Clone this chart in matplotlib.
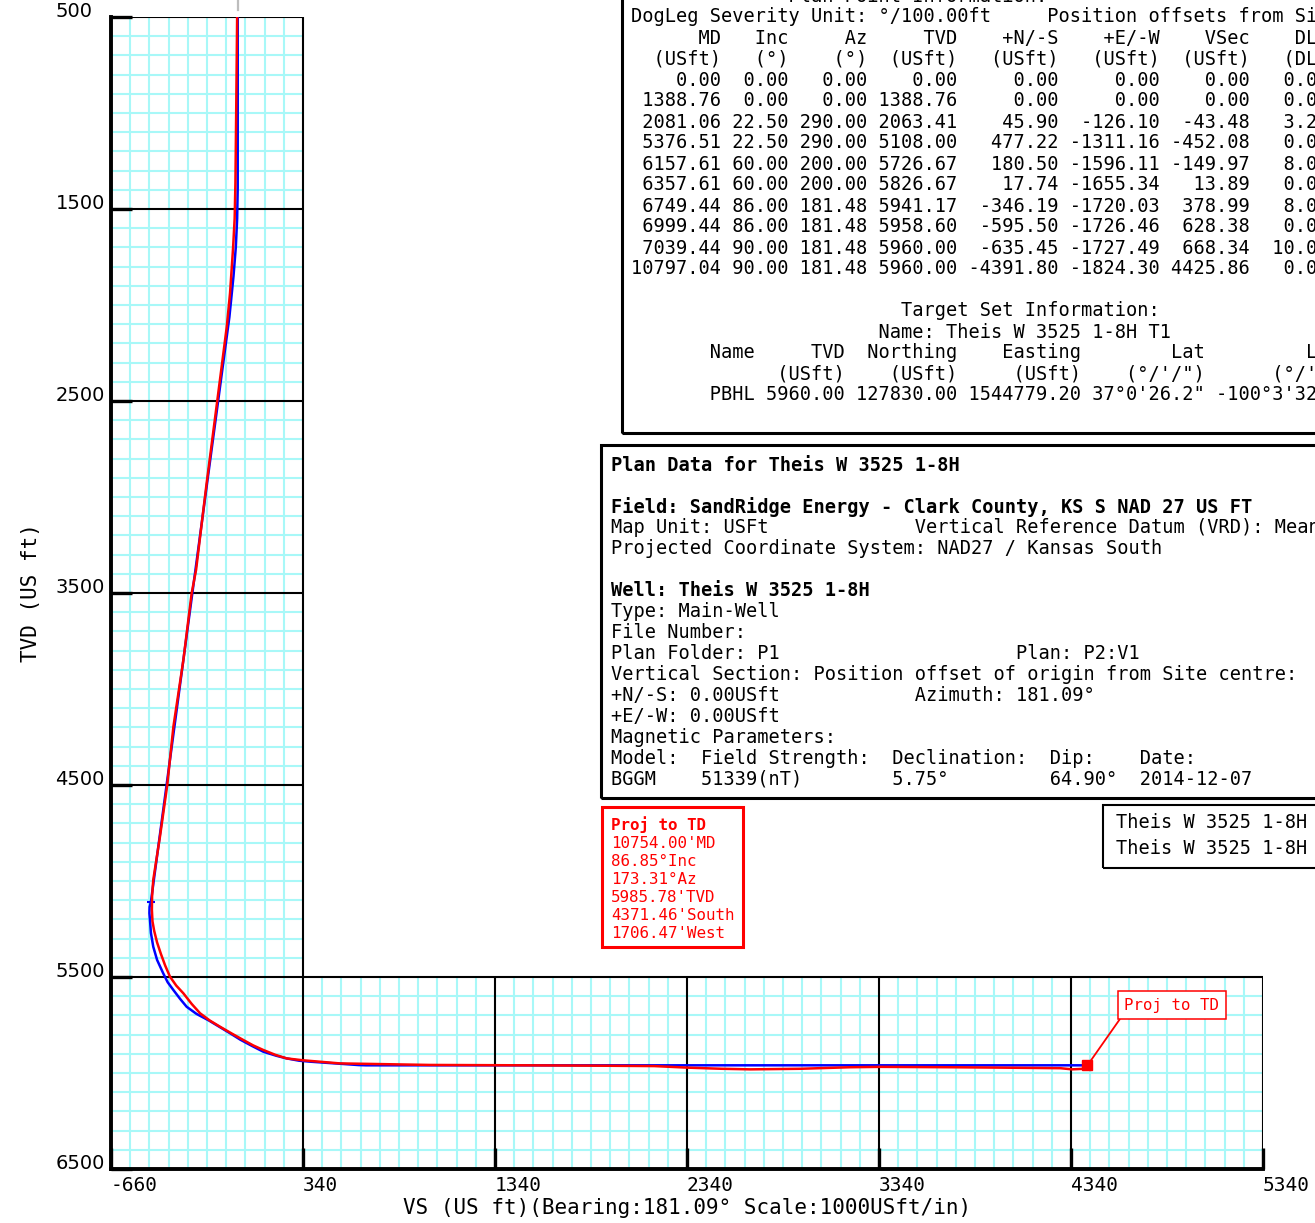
import numpy as np
import matplotlib
matplotlib.use("Agg")
import matplotlib.pyplot as plt
from matplotlib.patches import Rectangle

# ------------------------------------------------------------------ data
x_ticks = [-660, 340, 1340, 2340, 3340, 4340, 5340]
y_ticks = [500, 1500, 2500, 3500, 4500, 5500, 6500]

plan_vs = [0, 0, -3, -10, -22, -34, -43.48, -452.08, -459, -460, -457, -452, -440,
           -420, -388, -365, -335, -300, -266, -215, -149.97, -40, 13.89, 80, 133,
           200, 255, 320, 378.99, 530, 628.38, 668.34, 4425.86]
plan_tvd = [500, 1388.76, 1550, 1700, 1850, 1970, 2063.41, 5108.00, 5135, 5167, 5203,
            5271, 5342, 5411, 5481, 5527, 5568, 5614, 5655, 5692, 5726.67, 5793,
            5826.67, 5862, 5889, 5910, 5924, 5936, 5941.17, 5951.7, 5958.60, 5960.00,
            5960.00]

# actual survey (red)
act_vs = [-3, -8, -12, -16, -24, -40, -57, -106, -162, -217, -240, -283, -335, -367,
          -405, -440, -446, -447, -444, -435, -420, -400, -378, -353, -320, -283, -240,
          -196, -145, -92, -30, 29, 80, 133, 195, 255, 342, 532, 1000, 1500, 1890, 2170,
          2340, 2520, 2670, 2930, 3190, 3345, 3710, 3970, 4285, 4345, 4410]
act_tvd = [500, 1000, 1365, 1550, 1700, 1938, 2113, 2495, 2929, 3380, 3502, 3849, 4196,
           4500, 4769, 4995, 5080, 5150, 5210, 5260, 5320, 5380, 5440, 5498, 5545, 5585,
           5640, 5689, 5727, 5759, 5795, 5828, 5856, 5880, 5905, 5924, 5934, 5950, 5958,
           5960, 5962, 5964, 5972, 5978, 5981, 5978, 5970, 5968, 5970, 5972, 5975, 5981,
           5978]

td_vs, td_tvd = 4425.86, 5960.0

# plan point table
md = [0.00, 1388.76, 2081.06, 5376.51, 6157.61, 6357.61, 6749.44, 6999.44, 7039.44, 10797.04]
inc = [0.00, 0.00, 22.50, 22.50, 60.00, 60.00, 86.00, 86.00, 90.00, 90.00]
az = [0.00, 0.00, 290.00, 290.00, 200.00, 200.00, 181.48, 181.48, 181.48, 181.48]
tvd = [0.00, 1388.76, 2063.41, 5108.00, 5726.67, 5826.67, 5941.17, 5958.60, 5960.00, 5960.00]
ns = [0.00, 0.00, 45.90, 477.22, 180.50, 17.74, -346.19, -595.50, -635.45, -4391.80]
ew = [0.00, 0.00, -126.10, -1311.16, -1596.11, -1655.34, -1720.03, -1726.46, -1727.49, -1824.30]
vsec = [0.00, 0.00, -43.48, -452.08, -149.97, 13.89, 378.99, 628.38, 668.34, 4425.86]
dleg = [0.00, 0.00, 3.25, 0.00, 8.00, 0.00, 8.00, 0.00, 10.00, 0.00]

proj_lines = ["Proj to TD", "10754.00'MD", "86.85°Inc", "173.31°Az",
              "5985.78'TVD", "4371.46'South", "1706.47'West"]
legend_lines = ["Theis W 3525 1-8H", "Theis W 3525 1-8H"]

# ------------------------------------------------------------------ figure
W, H = 1315, 1223
fig = plt.figure(figsize=(W / 100, H / 100), dpi=100)
MONO = "DejaVu Sans Mono"

def fx(x):
    return x / W

def fy(y):
    return 1 - y / H

def ftext(x, y, s, **kw):
    kw.setdefault("family", MONO)
    kw.setdefault("va", "center")
    kw.setdefault("ha", "left")
    fig.text(fx(x), fy(y), s, **kw)

def fbox(x0, y0, x1, y1, color="black", lw=2.2):
    fig.add_artist(Rectangle((fx(x0), fy(y1)), (x1 - x0) / W, (y1 - y0) / H,
                             transform=fig.transFigure, fill=False, ec=color,
                             lw=lw, clip_on=False))

ax = fig.add_axes([fx(111), fy(1169), 1152 / W, 1152 / H])
ax.set_facecolor("none")
ax.set_xlim(-660, 5340)
ax.set_ylim(6500, 500)
for s in ["top", "right"]:
    ax.spines[s].set_visible(False)
for s in ["left", "bottom"]:
    ax.spines[s].set_linewidth(2.8)
    ax.spines[s].set_zorder(5)

cyan = "#a8f8f8"
step = 100
# grid in narrow upper part and wide lower part
gx_up = [v for v in np.arange(x_ticks[0] + step, x_ticks[1], step)]
ax.vlines(gx_up, y_ticks[0], y_ticks[-1], colors=cyan, lw=1.5, zorder=1)
gx_low = [v for v in np.arange(x_ticks[1] + step, x_ticks[-1], step) if v not in x_ticks]
ax.vlines(gx_low, y_ticks[-2], y_ticks[-1], colors=cyan, lw=1.5, zorder=1)
gy_up = [v for v in np.arange(y_ticks[0] + step, y_ticks[-2], step) if v not in y_ticks]
ax.hlines(gy_up, x_ticks[0], x_ticks[1], colors=cyan, lw=1.5, zorder=1)
gy_low = [v for v in np.arange(y_ticks[-2] + step, y_ticks[-1], step)]
ax.hlines(gy_low, x_ticks[0], x_ticks[-1], colors=cyan, lw=1.5, zorder=1)

# black frame lines
ax.hlines(y_ticks[:-2], x_ticks[0], x_ticks[1], colors="black", lw=1.5, zorder=2)
ax.hlines(y_ticks[-2], x_ticks[0], x_ticks[-1], colors="black", lw=1.5, zorder=2)
ax.vlines(x_ticks[1], y_ticks[0], y_ticks[-1], colors="black", lw=1.5, zorder=2)
ax.vlines(x_ticks[2:], y_ticks[-2], y_ticks[-1], colors="black", lw=1.5, zorder=2)

# grey stub above the top
ax.plot([0, 0], [411, 463], color="#bdbdbd", lw=1.6, clip_on=False)

# curves
ax.plot(plan_vs, plan_tvd, color="#0000ff", lw=1.8, zorder=3, solid_capstyle="butt")
ax.plot([plan_vs[7]], [plan_tvd[7]], marker="_", color="#0000ff", ms=6, mew=1.5, zorder=3)
ax.plot(act_vs, act_tvd, color="#ff0000", lw=1.8, zorder=4)
ax.plot([td_vs], [td_tvd], marker="s", color="#ff0000", ms=7.5, zorder=6, clip_on=False)

ax.annotate("Proj to TD", xy=(td_vs, td_tvd), xytext=(4866, 5646),
            textcoords="data", ha="center", va="center", color="#ff0000",
            family=MONO, fontsize=11.3,
            bbox=dict(boxstyle="square,pad=0.4", fc="white", ec="#ff0000", lw=1.1),
            arrowprops=dict(arrowstyle="-", color="#ff0000", lw=1.3,
                            relpos=(0, 0), shrinkA=0, shrinkB=0), zorder=7)

# ticks
ax.set_xticks(x_ticks)
ax.set_xticklabels([str(v) for v in x_ticks], family=MONO, fontsize=14)
for lbl in ax.get_xticklabels():
    lbl.set_ha("left")
ax.set_yticks(y_ticks)
ax.set_yticklabels([str(v) for v in y_ticks], family="DejaVu Sans", fontsize=14)
for lbl in ax.get_yticklabels():
    lbl.set_ha("left")
    lbl.set_va("baseline")
ax.tick_params(axis="x", direction="in", length=15, width=2.4, pad=5, top=False)
ax.tick_params(axis="y", direction="in", length=15, width=2.4, pad=40, right=False)

ax.set_xlabel("VS (US ft)(Bearing:181.09° Scale:1000USft/in)", family=MONO,
              fontsize=15, labelpad=2)
ax.set_ylabel("TVD (US ft)", family=MONO, fontsize=15)
ax.yaxis.set_label_coords(-0.061, 0.5)

# ------------------------------------------------------------------ text boxes
FS = 13.4
# plan point table
fbox(622, -20, 1340, 433)
lines = []
lines.append(" " * 14 + "Plan Point Information:")
lines.append("DogLeg Severity Unit: °/100.00ft     Position offsets from Site centre")
lines.append("      MD   Inc     Az     TVD    +N/-S    +E/-W    VSec    DLeg   TFace")
lines.append("  (USft)   (°)    (°)  (USft)   (USft)   (USft)  (USft)   (DLSU)")
for r in range(len(md)):
    lines.append(f"{md[r]:8.2f}{inc[r]:6.2f}{az[r]:7.2f}{tvd[r]:8.2f}{ns[r]:9.2f}"
                 f"{ew[r]:9.2f}{vsec[r]:8.2f}{dleg[r]:7.2f}")
lines.append("")
lines.append(" " * 24 + "Target Set Information:")
lines.append(" " * 22 + "Name: Theis W 3525 1-8H T1")
lines.append("       Name     TVD  Northing    Easting        Lat         Long")
lines.append("             (USft)    (USft)     (USft)    (°/'/\")      (°/'/\")")
lines.append("       PBHL 5960.00 127830.00 1544779.20 37°0'26.2\" -100°3'32.9\"")
for i, s in enumerate(lines):
    ftext(631, -4 + 21 * i, s, fontsize=FS)

# plan data box
fbox(601, 445, 1340, 798)
plan_text = [
    ("Plan Data for Theis W 3525 1-8H", "bold"),
    ("", "normal"),
    ("Field: SandRidge Energy - Clark County, KS S NAD 27 US FT", "bold"),
    ("Map Unit: USFt".ljust(27) + "Vertical Reference Datum (VRD): Mean Sea Level", "normal"),
    ("Projected Coordinate System: NAD27 / Kansas South", "normal"),
    ("", "normal"),
    ("Well: Theis W 3525 1-8H", "bold"),
    ("Type: Main-Well", "normal"),
    ("File Number:", "normal"),
    ("Plan Folder: P1".ljust(36) + "Plan: P2:V1", "normal"),
    ("Vertical Section: Position offset of origin from Site centre:", "normal"),
    ("+N/-S: 0.00USft".ljust(27) + "Azimuth: 181.09°", "normal"),
    ("+E/-W: 0.00USft", "normal"),
    ("Magnetic Parameters:", "normal"),
    ("Model:".ljust(8) + "Field Strength:".ljust(17) + "Declination:".ljust(14)
     + "Dip:".ljust(8) + "Date:", "normal"),
    ("BGGM".ljust(8) + "51339(nT)".ljust(17) + "5.75°".ljust(14)
     + "64.90°".ljust(8) + "2014-12-07", "normal"),
]
for i, (s, w) in enumerate(plan_text):
    ftext(611, 465 + 20.93 * i, s, fontsize=FS, weight=w)

# projection box
fbox(602, 807, 743, 947, color="#ff0000", lw=2.2)
for i, s in enumerate(proj_lines):
    ftext(611, 825 + 18 * i, s, fontsize=11.4, color="#ff0000",
          weight="bold" if i == 0 else "normal")

# legend box
fbox(1103, 805, 1340, 868, lw=1.5)
for i, s in enumerate(legend_lines):
    ftext(1116, 823 + 26 * i, s, fontsize=FS)

fig.savefig("out.png", dpi=100)
